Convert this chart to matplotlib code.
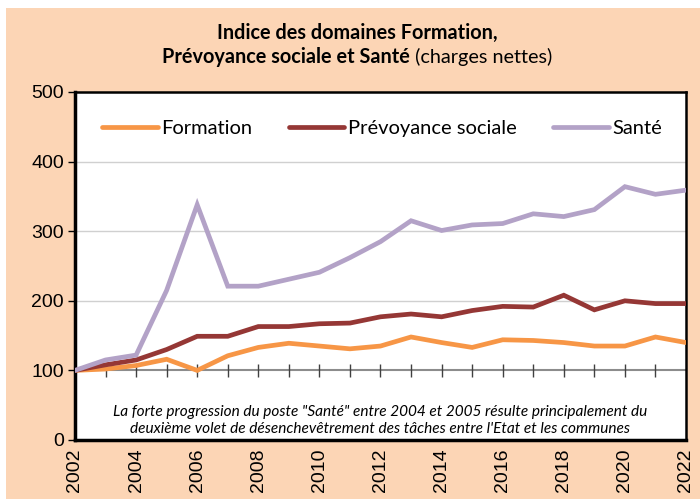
import matplotlib
matplotlib.use("Agg")
import matplotlib.pyplot as plt
from matplotlib.patches import Rectangle

years = list(range(2002, 2023))
formation = [100, 102, 107, 116, 100, 121, 133, 139, 135, 131, 135, 148,
             140, 133, 144, 143, 140, 135, 135, 148, 140]
prevoyance = [100, 108, 115, 130, 149, 149, 163, 163, 167, 168, 177, 181,
              177, 186, 192, 191, 208, 187, 200, 196, 196]
sante = [100, 115, 122, 215, 338, 221, 221, 231, 241, 262, 285, 315,
         301, 309, 311, 325, 321, 331, 364, 353, 359]
series_labels = ["Formation", "Prévoyance sociale", "Santé"]
series_colors = ["#F79646", "#953735", "#B3A2C7"]
year_ticks = list(range(2002, 2023, 2))
y_ticks = [0, 100, 200, 300, 400, 500]
title_line1 = "Indice des domaines Formation,"
title_bold = "Prévoyance sociale et Santé"
title_normal = " (charges nettes)"
note = ("La forte progression du poste \"Santé\" entre 2004 et 2005 résulte principalement du\n"
        "deuxième volet de désenchevêtrement des tâches entre l'Etat et les communes")

W, H = 700, 499
fig = plt.figure(figsize=(W / 100, H / 100), dpi=100)
fig.patches.append(Rectangle((6 / W, 0), 1, 1 - 8 / H, transform=fig.transFigure,
                             facecolor="#FCD5B5", edgecolor="none", zorder=-10))

ax = fig.add_axes([75 / W, 1 - 440 / H, 611 / W, 348 / H])
ax.set_facecolor("white")

for vals, lab, col in zip([formation, prevoyance, sante], series_labels, series_colors):
    ax.plot(years, vals, color=col, lw=3.4, label=lab, solid_capstyle="round",
            solid_joinstyle="miter", zorder=3)

ax.set_xlim(2002, 2022)
ax.set_ylim(0, 500)

# gridlines
for v in [200, 300, 400]:
    ax.axhline(v, color="#D0D0D0", lw=1.0, zorder=1)

# axis line at 100 with year ticks crossing it
ax.axhline(100, color="#8C8C8C", lw=1.5, zorder=2)
ax.vlines(years[1:-1], 100 - 9, 100 + 9, color="#404040", lw=1.0, zorder=2)

ax.set_yticks(y_ticks)
ax.set_yticklabels([str(v) for v in y_ticks], family="Liberation Sans", fontsize=14)
ax.tick_params(axis="y", direction="out", length=5, width=1, pad=3)

ax.set_xticks(year_ticks)
ax.set_xticklabels([str(y) for y in year_ticks], rotation=90, family="Liberation Sans",
                   fontsize=14, va="top")
ax.tick_params(axis="x", length=0, pad=6)

for side in ["left", "bottom"]:
    ax.spines[side].set_linewidth(2.5)
for side in ["top", "right"]:
    ax.spines[side].set_linewidth(1.8)

leg = ax.legend(loc="center", bbox_to_anchor=(0.503, 0.894), ncol=3, frameon=False,
                handlelength=2.75, handletextpad=0.2, columnspacing=1.8,
                prop={"family": "Lato", "size": 14.5})

ax.text(0.5, 0.056, note, transform=ax.transAxes, ha="center", va="center",
        style="italic", family="Lato", fontsize=11.1, linespacing=1.25)

# title
cx = 357 / W
fig.text(cx, 1 - 33 / H, title_line1, ha="center", va="center", fontweight="bold",
         family="Lato", fontsize=14.3)
renderer = fig.canvas.get_renderer()
t1 = fig.text(0, 1 - 57 / H, title_bold, ha="left", va="center", fontweight="bold",
              family="Lato", fontsize=14.3)
t2 = fig.text(0, 1 - 57 / H, title_normal, ha="left", va="center",
              family="Lato", fontsize=14.3)
w1 = t1.get_window_extent(renderer).width / W
w2 = t2.get_window_extent(renderer).width / W
x0 = cx - (w1 + w2) / 2
t1.set_x(x0)
t2.set_x(x0 + w1)

fig.savefig("out.png", dpi=100)
